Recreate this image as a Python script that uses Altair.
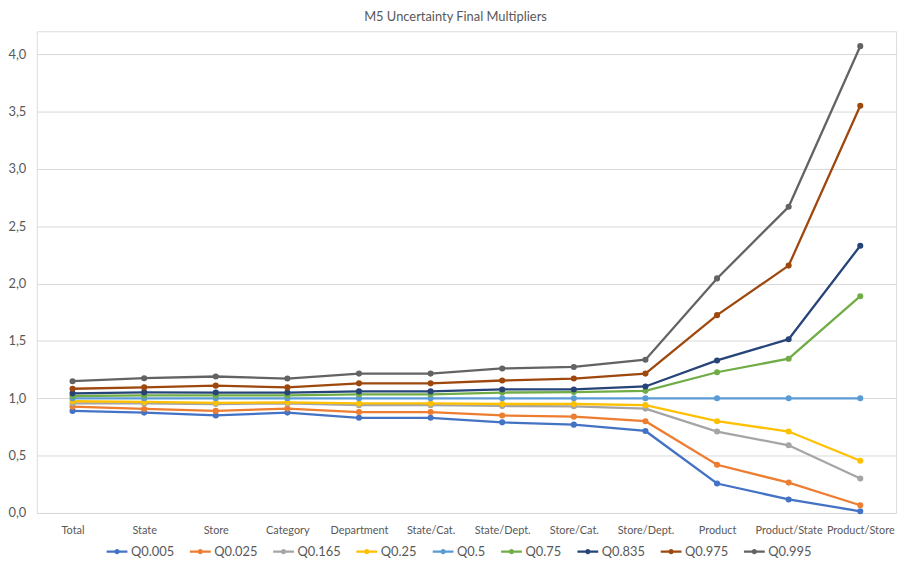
import altair as alt
import pandas as pd

categories = ["Total", "State", "Store", "Category", "Department", "State/Cat.",
              "State/Dept.", "Store/Cat.", "Store/Dept.", "Product",
              "Product/State", "Product/Store"]

q0005 = [0.89, 0.875, 0.85, 0.875, 0.83, 0.83, 0.79, 0.77, 0.715, 0.257, 0.118, 0.015]
q0025 = [0.927, 0.907, 0.89, 0.91, 0.88, 0.88, 0.85, 0.84, 0.80, 0.42, 0.265, 0.067]
q0165 = [0.956, 0.955, 0.95, 0.955, 0.94, 0.94, 0.933, 0.93, 0.91, 0.71, 0.59, 0.30]
q025 = [0.974, 0.968, 0.96, 0.965, 0.955, 0.955, 0.95, 0.95, 0.94, 0.80, 0.71, 0.455]
q05 = [1.0, 1.0, 1.0, 1.0, 1.0, 1.0, 1.0, 1.0, 1.0, 1.0, 1.0, 1.0]
q075 = [1.02, 1.025, 1.025, 1.025, 1.035, 1.035, 1.05, 1.054, 1.065, 1.227, 1.345, 1.89]
q0835 = [1.043, 1.051, 1.05, 1.05, 1.06, 1.06, 1.077, 1.077, 1.103, 1.33, 1.515, 2.33]
q0975 = [1.083, 1.095, 1.11, 1.095, 1.13, 1.13, 1.155, 1.172, 1.215, 1.725, 2.157, 3.55]
q0995 = [1.149, 1.175, 1.19, 1.172, 1.215, 1.215, 1.26, 1.273, 1.336, 2.045, 2.67, 4.07]

series_names = ["Q0.005", "Q0.025", "Q0.165", "Q0.25", "Q0.5", "Q0.75",
                "Q0.835", "Q0.975", "Q0.995"]
series_values = [q0005, q0025, q0165, q025, q05, q075, q0835, q0975, q0995]
colors = ["#4472C4", "#ED7D31", "#A5A5A5", "#FFC000", "#5B9BD5", "#70AD47",
          "#264478", "#9E480E", "#636363"]

rows = []
for si, (name, vals) in enumerate(zip(series_names, series_values)):
    for ci, (cat, v) in enumerate(zip(categories, vals)):
        rows.append({"level": cat, "series": name, "value": v, "order": si})
df = pd.DataFrame(rows)

FONT = "Lato"
TXT = "#595959"

x = alt.X("level:N", sort=categories, title=None,
          scale=alt.Scale(type="point", padding=0.5),
          axis=alt.Axis(labelAngle=0, domain=False, ticks=False, grid=False,
                        labelFontSize=11, labelColor=TXT, labelFont=FONT,
                        labelPadding=12))
y = alt.Y("value:Q", title=None,
          scale=alt.Scale(domain=[0, 4.2], nice=False, zero=True),
          axis=alt.Axis(values=[0, 0.5, 1.0, 1.5, 2.0, 2.5, 3.0, 3.5, 4.0],
                        labelExpr="replace(format(datum.value, '.1f'), '.', ',')",
                        domain=False, ticks=False, grid=True,
                        gridColor="#D9D9D9", gridWidth=1,
                        labelFontSize=13, labelColor=TXT, labelFont=FONT,
                        labelPadding=11))

sym = "M-1,0H1M0.14,0A0.14,0.14,0,1,1,-0.14,0A0.14,0.14,0,1,1,0.14,0Z"
legend = alt.Legend(title=None, orient="none", direction="horizontal",
                    legendX=69, legendY=513, symbolType=sym, symbolSize=441,
                    symbolStrokeWidth=2.3, labelFontSize=13, labelFont=FONT,
                    labelColor=TXT, labelOffset=2, columnPadding=10,
                    columns=9, padding=0)

lines = alt.Chart(df).mark_line(strokeWidth=2.3).encode(
    x=x, y=y,
    color=alt.Color("series:N", sort=series_names,
                    scale=alt.Scale(domain=series_names, range=colors),
                    legend=legend),
    order=alt.Order("order:Q"),
)

points = alt.Chart(df).mark_point(filled=True, size=38, opacity=1).encode(
    x=x, y=y,
    fill=alt.Fill("series:N", scale=alt.Scale(domain=series_names, range=colors),
                  legend=None),
)

chart = alt.layer(lines, points).properties(
    width=867, height=486,
    title=alt.Title("M5 Uncertainty Final Multipliers", fontSize=13, font=FONT,
                    color=TXT, fontWeight="normal", anchor="middle", dx=-11,
                    offset=7),
    autosize=alt.AutoSizeParams(type="none"),
    padding={"left": 29, "top": 21, "right": 9, "bottom": 48},
).configure_view(stroke=None).configure(background="white")

chart.save("out.html", embed_options={"renderer": "svg", "actions": False})
